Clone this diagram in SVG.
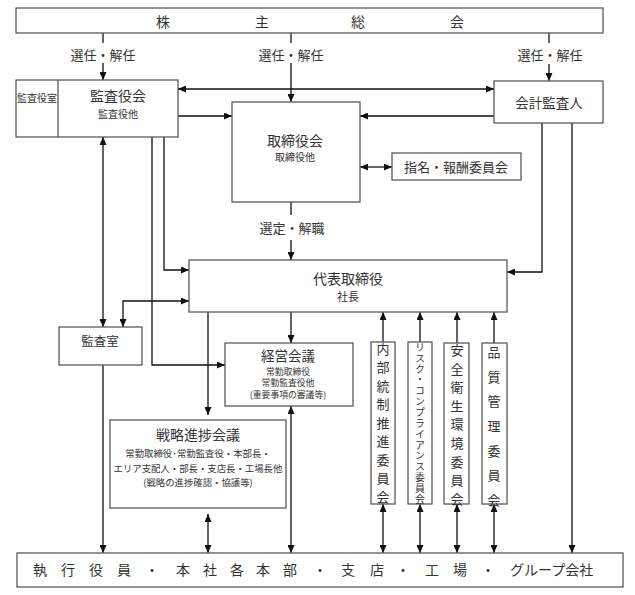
<svg xmlns="http://www.w3.org/2000/svg" width="635" height="595" viewBox="0 0 635 595">
<style>
.box{fill:#fff;stroke:#5a5a5a;stroke-width:1.3}
.ln{fill:none;stroke:#111;stroke-width:1.3}
text{font-family:"Noto Sans CJK JP","Noto Sans CJK SC",sans-serif;fill:#333;text-anchor:middle}
.t14{font-size:14px}
.t13{font-size:13px}
.t11{font-size:11px}
.t10{font-size:10px}
.t9{font-size:8.8px}
.vt{writing-mode:vertical-rl;text-anchor:start}
</style>
<defs>
<marker id="ah" viewBox="0 0 8 7" refX="8" refY="3.5" markerWidth="8" markerHeight="7" markerUnits="userSpaceOnUse" orient="auto-start-reverse">
<path d="M0,0 L8,3.5 L0,7 z" fill="#111"/>
</marker>
</defs>
<rect width="635" height="595" fill="#fff"/>

<g id="connectors">
<line class="ln" x1="103" y1="33" x2="103" y2="43"/>
<line class="ln" x1="103" y1="63" x2="103" y2="80" marker-end="url(#ah)"/>
<line class="ln" x1="291" y1="33" x2="291" y2="43"/>
<line class="ln" x1="291" y1="63" x2="291" y2="102" marker-end="url(#ah)"/>
<line class="ln" x1="549" y1="33" x2="549" y2="43"/>
<line class="ln" x1="549" y1="64" x2="549" y2="81" marker-end="url(#ah)"/>
<line class="ln" x1="178" y1="89" x2="494" y2="89" marker-start="url(#ah)" marker-end="url(#ah)"/>
<line class="ln" x1="178" y1="116" x2="232" y2="116" marker-end="url(#ah)"/>
<line class="ln" x1="494" y1="116" x2="360" y2="116" marker-end="url(#ah)"/>
<line class="ln" x1="360" y1="167" x2="392" y2="167" marker-start="url(#ah)" marker-end="url(#ah)"/>
<line class="ln" x1="291" y1="202" x2="291" y2="215"/>
<line class="ln" x1="291" y1="240" x2="291" y2="260" marker-end="url(#ah)"/>
<line class="ln" x1="103" y1="137" x2="103" y2="327" marker-start="url(#ah)" marker-end="url(#ah)"/>
<path class="ln" d="M152,137 V365 H225" marker-end="url(#ah)"/>
<path class="ln" d="M164,137 V270 H189" marker-end="url(#ah)"/>
<path class="ln" d="M123,327 V301 H189" marker-start="url(#ah)" marker-end="url(#ah)"/>
<path class="ln" d="M542,123 V272 H507" marker-end="url(#ah)"/>
<line class="ln" x1="572" y1="123" x2="572" y2="553" marker-end="url(#ah)"/>
<line class="ln" x1="291" y1="312" x2="291" y2="343" marker-end="url(#ah)"/>
<line class="ln" x1="208" y1="312" x2="208" y2="415" marker-end="url(#ah)"/>
<line class="ln" x1="291" y1="406" x2="291" y2="553" marker-start="url(#ah)" marker-end="url(#ah)"/>
<line class="ln" x1="208" y1="514" x2="208" y2="553" marker-start="url(#ah)" marker-end="url(#ah)"/>
<line class="ln" x1="103" y1="365" x2="103" y2="553" marker-end="url(#ah)"/>
<line class="ln" x1="383" y1="342" x2="383" y2="312" marker-end="url(#ah)"/>
<line class="ln" x1="420" y1="342" x2="420" y2="312" marker-end="url(#ah)"/>
<line class="ln" x1="457" y1="343" x2="457" y2="312" marker-end="url(#ah)"/>
<line class="ln" x1="494" y1="343" x2="494" y2="312" marker-end="url(#ah)"/>
<line class="ln" x1="383" y1="504" x2="383" y2="553" marker-start="url(#ah)" marker-end="url(#ah)"/>
<line class="ln" x1="420" y1="504" x2="420" y2="553" marker-start="url(#ah)" marker-end="url(#ah)"/>
<line class="ln" x1="457" y1="504" x2="457" y2="553" marker-start="url(#ah)" marker-end="url(#ah)"/>
<line class="ln" x1="494" y1="504" x2="494" y2="553" marker-start="url(#ah)" marker-end="url(#ah)"/>
<text class="t13" x="103" y="60">選任・解任</text>
<text class="t13" x="291" y="60">選任・解任</text>
<text class="t13" x="550" y="60">選任・解任</text>
<text class="t13" x="292" y="233">選定・解職</text>
</g>

<g id="shareholders">
<rect class="box" x="16" y="8" width="587" height="25"/>
<text class="t14" y="27"><tspan x="163">株</tspan><tspan x="262">主</tspan><tspan x="358">総</tspan><tspan x="457">会</tspan></text>
</g>

<g id="kansayakukai">
<rect class="box" x="16" y="80" width="162" height="57"/>
<line class="box" x1="58" y1="80" x2="58" y2="137"/>
<text class="t10" x="37" y="102">監査役室</text>
<text class="t14" x="118" y="101">監査役会</text>
<text class="t10" x="118" y="117.5">監査役他</text>
</g>

<g id="kaikeikansanin">
<rect class="box" x="494" y="81" width="109" height="42"/>
<text class="t13" x="549" y="108" style="font-size:13.5px">会計監査人</text>
</g>

<g id="torishimariyakukai">
<rect class="box" x="232" y="102" width="128" height="100"/>
<text class="t14" x="295" y="146">取締役会</text>
<text class="t10" x="295" y="161">取締役他</text>
</g>

<g id="shimei">
<rect class="box" x="392" y="153" width="129" height="27"/>
<text class="t13" x="456" y="172">指名・報酬委員会</text>
</g>

<g id="daihyo">
<rect class="box" x="189" y="260" width="318" height="52"/>
<text class="t14" x="348" y="284">代表取締役</text>
<text class="t11" x="348" y="301">社長</text>
</g>

<g id="kansashitsu">
<rect class="box" x="59" y="327" width="83" height="38"/>
<text class="t13" x="100" y="346" style="font-size:12.5px">監査室</text>
</g>

<g id="keiei">
<rect class="box" x="225" y="343" width="128" height="63"/>
<text class="t13" x="288" y="361" style="font-size:13.5px">経営会議</text>
<text class="t9" x="288" y="374.5">常勤取締役</text>
<text class="t9" x="288" y="386">常勤監査役他</text>
<text class="t9" x="288" y="397.5">(重要事項の審議等)</text>
</g>

<g id="senryaku">
<rect class="box" x="110" y="420" width="176" height="88"/>
<text class="t14" x="198" y="440">戦略進捗会議</text>
<text class="t9" x="198" y="457" style="font-size:9.4px">常勤取締役･常勤監査役・本部長・</text>
<text class="t9" x="198" y="472" style="font-size:9.4px">エリア支配人・部長・支店長・工場長他</text>
<text class="t9" x="198" y="486" style="font-size:9.4px">(戦略の進捗確認・協議等)</text>
</g>

<g id="naibutosei">
<rect class="box" x="371" y="342" width="24" height="162"/>
<text class="t13 vt" x="383" y="342.5" style="letter-spacing:5.5px">内部統制推進委員会</text>
</g>

<g id="risk">
<rect class="box" x="408" y="342" width="24" height="162"/>
<text class="t10 vt" x="420" y="342" style="letter-spacing:0.86px">リスク・コンプライアンス委員会</text>
</g>

<g id="anzen">
<rect class="box" x="444" y="343" width="25" height="161"/>
<text class="t13 vt" x="457" y="343.5" style="letter-spacing:5.6px">安全衛生環境委員会</text>
</g>

<g id="hinshitsu">
<rect class="box" x="482" y="343" width="25" height="161"/>
<text class="t13 vt" x="494" y="345.5" style="letter-spacing:11.7px">品質管理委員会</text>
</g>

<g id="shikko">
<rect class="box" x="17" y="553" width="606" height="34"/>
<text class="t14" y="575" style="text-anchor:start" x="33 61 89 117 145 176 203 230 256 283 313 341 370 396 425 453 481 510">執行役員・本社各本部・支店・工場・グループ会社</text>
</g>
</svg>
